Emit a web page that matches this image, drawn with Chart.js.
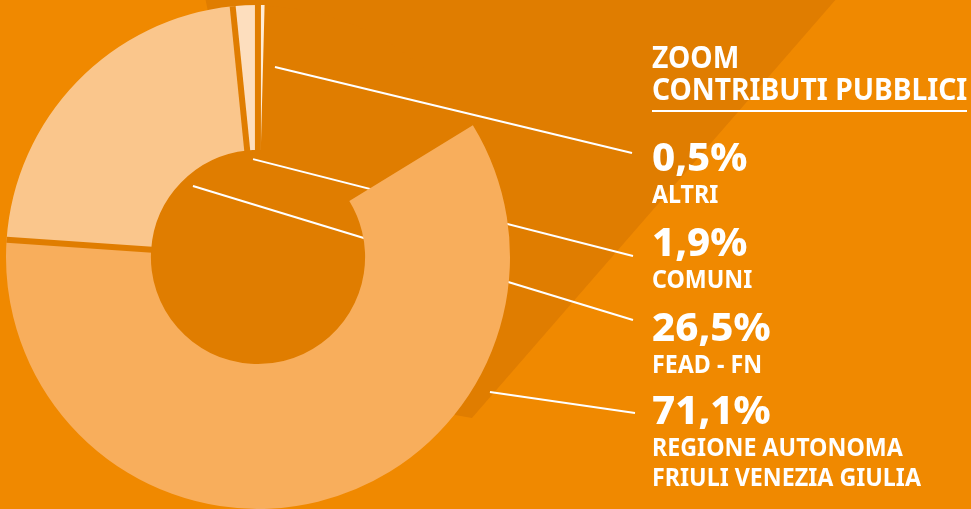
<!DOCTYPE html>
<html lang="it">
<head>
<meta charset="utf-8">
<title>Zoom contributi pubblici</title>
<script src="https://cdn.jsdelivr.net/npm/chart.js@4.4.1/dist/chart.umd.min.js"></script>
<style>
  html, body { margin: 0; padding: 0; background: #f08900; }
  #wrap { position: relative; width: 971px; height: 509px; overflow: hidden; }
  #chart { position: absolute; left: 0; top: 0; }
  .txt {
    position: absolute; left: 652px; color: #fff; white-space: nowrap; line-height: 1;
    font-family: 'Noto Sans', sans-serif; transform-origin: 0 0;
  }
  .title { font-size: 30px; font-weight: 700; transform: scaleX(0.94); }
  .pct { font-size: 39px; font-weight: 800; transform: scaleX(1.03); }
  .name { font-size: 25px; font-weight: 700; transform: scaleX(0.93); }
  #rule { position: absolute; left: 652px; top: 110px; width: 315px; height: 2px; background: #fff; }
</style>
</head>
<body>
<div id="wrap">
  <canvas id="chart" width="971" height="509"></canvas>
  <div id="rule"></div>
</div>
<script>
// quote per fonte di finanziamento (%)
const categories = ['REGIONE AUTONOMA FRIULI VENEZIA GIULIA', 'FEAD - FN', 'COMUNI', 'ALTRI'];
const nameLines = [['REGIONE AUTONOMA', 'FRIULI VENEZIA GIULIA'], ['FEAD - FN'], ['COMUNI'], ['ALTRI']];
const shares = [71.1, 26.5, 1.9, 0.5];
const titleLines = ['ZOOM', 'CONTRIBUTI PUBBLICI'];

const SHADE = '#e07d00';
const sliceColors = ['#f8ae5c', '#fac68c', '#fddebe', '#ffecd6'];

// ombra lunga dietro l'anello, in raggi dal centro
const shadowPts = [[-0.21, -1.03], [2.30, -1.03], [0.849, 0.639], [0.782, 0.627], [0, 0]];
// linee di richiamo: partenza polare (gradi da ore 12, frazione del raggio), arrivo vicino all'etichetta
const leaderFrom = [[120.2, 1.065], [-42.5, 0.382], [-2.9, 0.389], [5.1, 0.757]];
const leaderTo = [[635, 413], [633, 320], [633, 256], [632, 153]];
const pctBaseline = [424, 341, 256, 171];

const BASE = 0.888; // baseline dal bordo alto della riga (line-height 1)
const wrap = document.getElementById('wrap');
function addText(text, cls, size, baseline) {
  const d = document.createElement('div');
  d.className = 'txt ' + cls;
  d.textContent = text;
  d.style.top = (baseline - BASE * size) + 'px';
  wrap.appendChild(d);
  return d;
}
addText(titleLines[0], 'title', 30, 69);
addText(titleLines[1], 'title', 30, 101);
shares.forEach((v, i) => {
  addText(v.toFixed(1).replace('.', ',') + '%', 'pct', 39, pctBaseline[i]);
  nameLines[i].forEach((ln, j) => addText(ln, 'name', 25, pctBaseline[i] + 32 + j * 30));
});

const backdrop = {
  id: 'backdrop',
  beforeDatasetsDraw(chart) {
    const a0 = chart.getDatasetMeta(0).data[0];
    const cx = a0.x, cy = a0.y, R = a0.outerRadius;
    const ctx = chart.ctx;
    ctx.save();
    ctx.fillStyle = SHADE;
    ctx.beginPath();
    shadowPts.forEach(([u, v], i) => {
      const px = cx + u * R, py = cy + v * R;
      if (i) ctx.lineTo(px, py); else ctx.moveTo(px, py);
    });
    ctx.closePath();
    ctx.fill();
    ctx.beginPath();
    ctx.arc(cx, cy, R - 1, 0, Math.PI * 2);
    ctx.fill();

    ctx.strokeStyle = '#fff';
    ctx.lineWidth = 2;
    leaderFrom.forEach(([deg, f], i) => {
      const t = (deg - 90) * Math.PI / 180;
      ctx.beginPath();
      ctx.moveTo(cx + Math.cos(t) * f * R, cy + Math.sin(t) * f * R);
      ctx.lineTo(leaderTo[i][0], leaderTo[i][1]);
      ctx.stroke();
    });
    ctx.restore();
  },
  afterDatasetsDraw(chart) {
    // separatori scuri tra gli spicchi
    const arcs = chart.getDatasetMeta(0).data;
    const ctx = chart.ctx;
    ctx.save();
    ctx.strokeStyle = SHADE;
    ctx.lineWidth = 6;
    arcs.slice(1).forEach(a => {
      const t = a.startAngle;
      ctx.beginPath();
      ctx.moveTo(a.x + Math.cos(t) * (a.innerRadius - 1), a.y + Math.sin(t) * (a.innerRadius - 1));
      ctx.lineTo(a.x + Math.cos(t) * a.outerRadius, a.y + Math.sin(t) * a.outerRadius);
      ctx.stroke();
    });
    ctx.restore();
  }
};

new Chart(document.getElementById('chart'), {
  type: 'doughnut',
  data: {
    labels: categories,
    datasets: [{
      data: shares,
      backgroundColor: sliceColors,
      borderWidth: 0,
      clip: false
    }]
  },
  options: {
    responsive: false,
    animation: false,
    rotation: 58.5,
    circumference: 303,
    cutout: '42.5%',
    radius: 252,
    layout: { padding: { left: 0, top: 5, right: 455, bottom: 0 } },
    plugins: { legend: { display: false }, tooltip: { enabled: false } }
  },
  plugins: [backdrop]
});
</script>
</body>
</html>
